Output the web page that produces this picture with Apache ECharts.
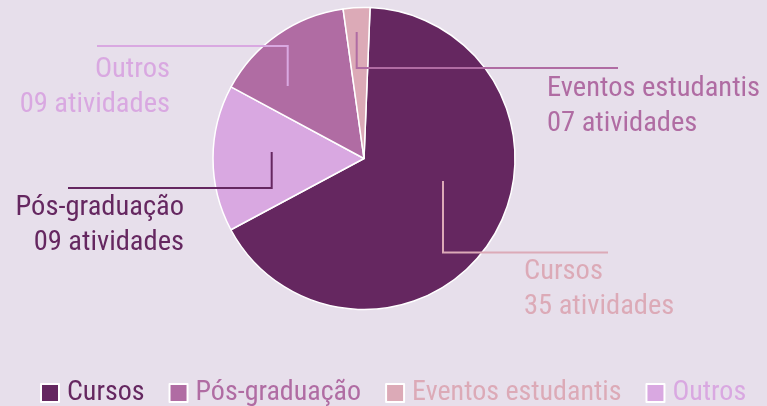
<!DOCTYPE html>
<html>
<head>
<meta charset="utf-8">
<script src="https://cdn.jsdelivr.net/npm/echarts@6/dist/echarts.min.js"></script>
<style>
html,body{margin:0;padding:0;background:#e7dfeb;}
#chart{width:767px;height:406px;}
</style>
</head>
<body>
<div id="chart"></div>
<script>
// Slices in clockwise order from the top
const categories = ['Cursos', 'Outros', 'Pós-graduação', 'Eventos estudantis'];
const sliceValues = [35, 8.25, 7.85, 1.5];
// Label text attached to each slice (as printed in the picture)
const labelNames = ['Cursos', 'Pós-graduação', 'Outros', 'Eventos estudantis'];
const labelCounts = ['35', '09', '09', '07'];
const legendOrder = ['Cursos', 'Pós-graduação', 'Eventos estudantis', 'Outros'];

const FONT = "'Liberation Sans Narrow', 'Roboto Condensed', 'DejaVu Sans Condensed', 'Noto Sans', sans-serif";
const colorOf = {
  'Cursos': '#652760',
  'Pós-graduação': '#b06ca3',
  'Eventos estudantis': '#dcaab7',
  'Outros': '#d9a8e1'
};
const labelColor = ['#dcaab7', '#652760', '#d9a8e1', '#b06ca3'];
const spots = [
  {x: 524, y: 289, align: 'left', pts: [[443, 181], [443, 252.5], [608, 252.5]]},
  {x: 184, y: 225, align: 'right', pts: [[271.7, 152], [271.7, 188], [68, 188]]},
  {x: 170, y: 87, align: 'right', pts: [[287.7, 86], [287.7, 46], [97, 46]]},
  {x: 547, y: 106, align: 'left', pts: [[356.7, 32], [356.7, 68], [618, 68]]}
];

const chart = echarts.init(document.getElementById('chart'), null, {renderer: 'canvas'});

const pieData = categories.map((c, i) => ({
  name: c,
  value: sliceValues[i],
  itemStyle: {color: colorOf[c]}
}));
const labelData = categories.map((c, i) => ({
  name: c,
  value: sliceValues[i],
  label: {
    formatter: labelNames[i] + '\n' + labelCounts[i] + ' atividades',
    color: labelColor[i]
  },
  labelLine: {lineStyle: {color: labelColor[i]}}
}));

const common = {
  type: 'pie',
  center: [364, 158.5],
  radius: [0, 151],
  startAngle: 87.7,
  clockwise: true,
  emphasis: {disabled: true}
};

chart.setOption({
  backgroundColor: '#e7dfeb',
  animation: false,
  legend: {
    data: legendOrder.map(n => ({name: n, textStyle: {color: colorOf[n]}})),
    top: 379,
    left: 40,
    padding: 0,
    icon: 'rect',
    itemWidth: 18,
    itemHeight: 18,
    itemGap: 24,
    textStyle: {fontFamily: FONT, fontSize: 28, padding: [0, 0, 0, 3]}
  },
  series: [
    Object.assign({}, common, {
      z: 2,
      data: pieData,
      itemStyle: {borderColor: '#ffffff', borderWidth: 1.5},
      label: {show: false},
      labelLine: {show: false}
    }),
    Object.assign({}, common, {
      z: 5,
      silent: true,
      data: labelData,
      itemStyle: {color: 'rgba(0,0,0,0)', borderWidth: 0},
      label: {
        show: true,
        position: 'outside',
        fontFamily: FONT,
        fontSize: 28.5,
        lineHeight: 35,
        width: 400,
        overflow: 'none'
      },
      labelLine: {show: true, showAbove: true, lineStyle: {width: 2}},
      labelLayout: function (p) {
        const s = spots[p.dataIndex];
        return {x: s.x, y: s.y, align: s.align, verticalAlign: 'middle', labelLinePoints: s.pts, hideOverlap: false};
      }
    })
  ]
});
</script>
</body>
</html>
